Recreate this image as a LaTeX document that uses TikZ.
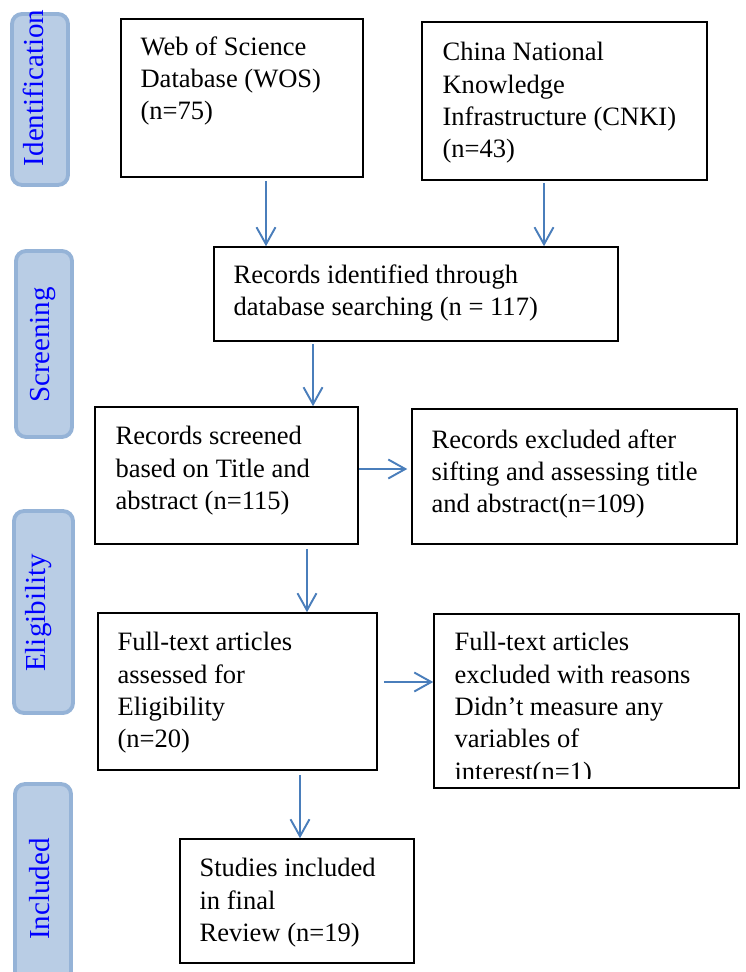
\documentclass[tikz,border=0pt]{standalone}
\usepackage{fontspec}
\setmainfont{Liberation Serif}
\usetikzlibrary{positioning,arrows.meta}
\definecolor{stagefill}{HTML}{B9CDE5}
\definecolor{stageline}{HTML}{95B3D7}
\definecolor{arrowblue}{HTML}{4A7EBB}

\begin{document}
\begin{tikzpicture}[x=0.02cm,y=-0.02cm]
    \tikzstyle{box}=[rectangle,draw=black,line width=0.9pt,inner sep=0pt]
    \tikzstyle{boxtext}=[anchor=north west,inner sep=0pt,align=left,font=\fontsize{15.1}{18.4}\selectfont]
    \tikzstyle{stage}=[rectangle,rounded corners=0.2cm,fill=stagefill,draw=stageline,line width=2.2pt]
    \tikzstyle{stagetext}=[rotate=90,anchor=base,inner sep=0pt,text=blue,font=\fontsize{16.5}{20}\selectfont]
    \tikzstyle{arrow}=[arrowblue,line width=1.1pt,-{Straight Barb[length=0.34cm,width=0.38cm]}]

    \clip (0,0) rectangle (745,972);

    % stages on the left
    \node[stage,minimum width=1.12cm,minimum height=3.42cm] (idstage) at (40,99.5) {};
    \node[stage,minimum width=1.12cm,minimum height=3.72cm] (scstage) at (44,344) {};
    \node[stage,minimum width=1.18cm,minimum height=4.04cm] (elstage) at (43.5,612) {};
    \node[stage,minimum width=1.12cm,minimum height=4.20cm] (instage) at (43,889) {};
    \node[stagetext] (idlabel) at (43,88) {Identification};
    \node[stagetext] (sclabel) at (49,345) {Screening};
    \node[stagetext] (ellabel) at (45,613) {Eligibility};
    \node[stagetext] (inlabel) at (49,889) {Included};

    % boxes
    \node[box,minimum width=4.84cm,minimum height=3.16cm] (wos) at (242,98) {};
    \node[box,minimum width=5.70cm,minimum height=3.16cm] (cnki) at (564.5,101) {};
    \node[box,minimum width=8.08cm,minimum height=1.88cm] (ident) at (416,294) {};
    \node[box,minimum width=5.26cm,minimum height=2.74cm] (screened) at (226.5,475.5) {};
    \node[box,minimum width=6.50cm,minimum height=2.70cm] (excluded) at (574.5,476.5) {};
    \node[box,minimum width=5.58cm,minimum height=3.14cm] (fulltext) at (237.5,691.5) {};
    \node[box,minimum width=6.10cm,minimum height=3.48cm] (ftexcl) at (586.5,701) {};
    \node[box,minimum width=4.68cm,minimum height=2.48cm] (studies) at (297,901) {};

    \node[boxtext,below right=0.36cm and 0.40cm of wos.north west] (wostext) {Web of Science\\Database (WOS)\\(n=75)};
    \node[boxtext,below right=0.42cm and 0.42cm of cnki.north west] (cnkitext) {China National\\Knowledge\\Infrastructure (CNKI)\\(n=43)};
    \node[boxtext,below right=0.36cm and 0.40cm of ident.north west] (identtext) {Records identified through\\database searching (n = 117)};
    \node[boxtext,below right=0.40cm and 0.42cm of screened.north west] (screenedtext) {Records screened\\based on Title and\\abstract (n=115)};
    \node[boxtext,below right=0.42cm and 0.40cm of excluded.north west] (excludedtext) {Records excluded after\\sifting and assessing title\\and abstract(n=109)};
    \node[boxtext,below right=0.40cm and 0.40cm of fulltext.north west] (fulltexttext) {Full-text articles\\assessed for\\Eligibility\\(n=20)};
    \begin{scope}
        \clip (ftexcl.north west) rectangle ([yshift=0.2cm]ftexcl.south east);
        \node[boxtext,below right=0.38cm and 0.42cm of ftexcl.north west] (ftexcltext) {Full-text articles\\excluded with reasons\\Didn’t measure any\\variables of\\interest(n=1)};
    \end{scope}
    \node[boxtext,below right=0.40cm and 0.40cm of studies.north west] (studiestext) {Studies included\\in final\\Review (n=19)};

    % arrows
    \draw[arrow,shorten <=0.06cm] ([xshift=0.48cm]wos.south) -- ([xshift=0.48cm]wos.south |- ident.north);
    \draw[arrow,shorten <=0.04cm] ([xshift=-0.41cm]cnki.south) -- ([xshift=-0.41cm]cnki.south |- ident.north);
    \draw[arrow,shorten <=0.04cm] ([xshift=-2.06cm]ident.south) -- ([xshift=-2.06cm]ident.south |- screened.north);
    \draw[arrow,shorten >=0.08cm] ([yshift=0.13cm]screened.east) -- ([yshift=0.13cm]screened.east -| excluded.west);
    \draw[arrow,shorten <=0.08cm] ([xshift=1.61cm]screened.south) -- ([xshift=1.61cm]screened.south |- fulltext.north);
    \draw[arrow,shorten <=0.12cm] ([yshift=0.19cm]fulltext.east) -- ([yshift=0.19cm]fulltext.east -| ftexcl.west);
    \draw[arrow,shorten <=0.08cm] ([xshift=1.25cm]fulltext.south) -- ([xshift=1.25cm]fulltext.south |- studies.north);

\end{tikzpicture}
\end{document}
